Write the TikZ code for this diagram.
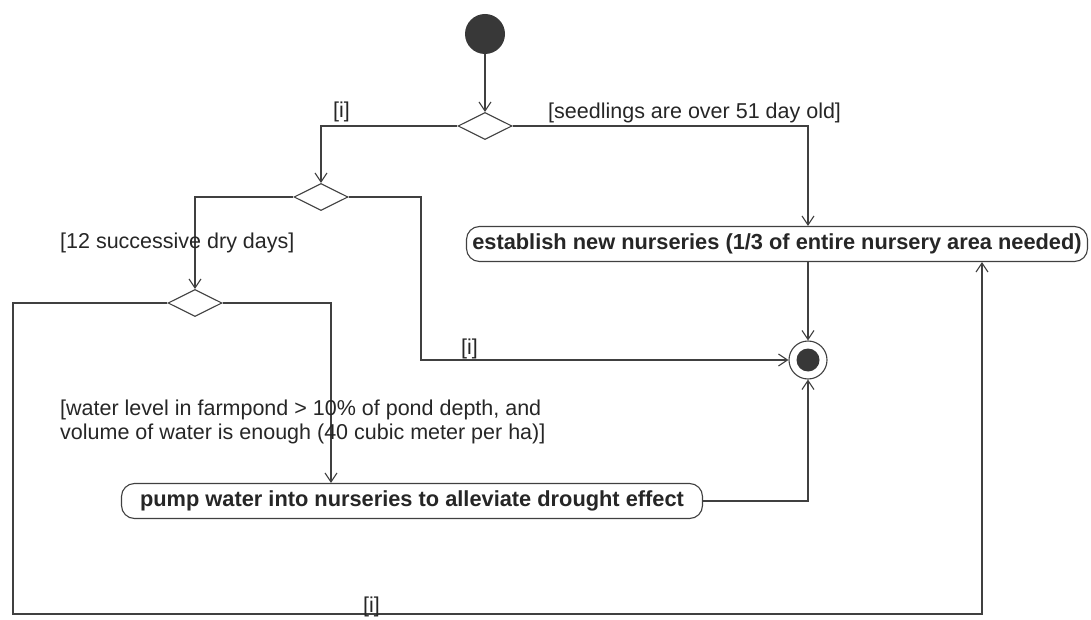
\documentclass[tikz,border=0pt]{standalone}
\usepackage{fontspec}
\setmainfont{Liberation Sans}
\usetikzlibrary{arrows.meta,shapes.geometric}
\definecolor{ink}{HTML}{404040}
\definecolor{dot}{HTML}{383838}
\begin{document}
\begin{tikzpicture}[x=1pt,y=-1pt,
  line/.style={draw=ink, line width=1.1pt},
  arr/.style={line, -{Straight Barb[length=9pt,width=12pt,line width=1.1pt]}},
  dec/.style={diamond, draw=ink, line width=1.1pt, fill=white, minimum width=54pt, minimum height=27pt, inner sep=0pt},
  act/.style={draw=ink, line width=1.1pt, rounded corners=13pt, fill=white, inner sep=0pt,
              font=\fontsize{21.8}{24}\selectfont\bfseries, text=black!85},
  grd/.style={font=\fontsize{21.5}{24}\selectfont, inner sep=0pt, anchor=base west, text=black!85}
]
\useasboundingbox (0,0) rectangle (1091,620);

% nodes
\node[circle, fill=dot, minimum size=40pt, inner sep=0pt] (start) at (485,34) {};
\node[dec] (d1) at (485,126) {};
\node[dec] (d2) at (321,197) {};
\node[dec] (d3) at (195,303) {};
\node[act, minimum width=621pt, minimum height=35pt] (est) at (777,244) {establish new nurseries (1/3 of entire nursery area needed)};
\node[act, minimum width=581pt, minimum height=35pt] (pump) at (412,501) {pump water into nurseries to alleviate drought effect};
\node[circle, draw=ink, line width=1.1pt, fill=white, minimum size=38pt, inner sep=0pt] (end) at (808,360) {};
\node[circle, fill=dot, minimum size=23pt, inner sep=0pt] (endin) at (end) {};

% bend points
\coordinate (c1) at (421,360);
\coordinate (c3) at (13,614);
\coordinate (c4) at (982,614);
\coordinate (c5) at (331,0);

% connectors
\draw[arr] (start) -- (d1);
\draw[arr] (d1.west) -| (d2.north);
\draw[arr] (d1.east) -| (est.north -| end);
\draw[arr] (est.south -| end) -- (end);
\draw[arr] (d2.east) -| (c1) -- (end.west);
\draw[arr] (d2.west) -| (d3.north);
\draw[arr] (d3.east) -| (pump.north -| c5);
\draw[arr] (d3.west) -| (c3) -- (c4) -- (est.south -| c4);
\draw[arr] (pump.east) -| (end.south);

% guard labels
\node[grd] (g1) at (333,118) {[i]};
\node[grd] (g2) at (548,119) {[seedlings are over 51 day old]};
\node[grd] (g3) at (60,248) {[12 successive dry days]};
\node[grd] (g4) at (461,354) {[i]};
\node[grd] (g5) at (60,415) {[water level in farmpond > 10\% of pond depth, and};
\node[grd] (g6) at (60,439) {volume of water is enough (40 cubic meter per ha)]};
\node[grd] (g7) at (363,612) {[i]};
\end{tikzpicture}
\end{document}
